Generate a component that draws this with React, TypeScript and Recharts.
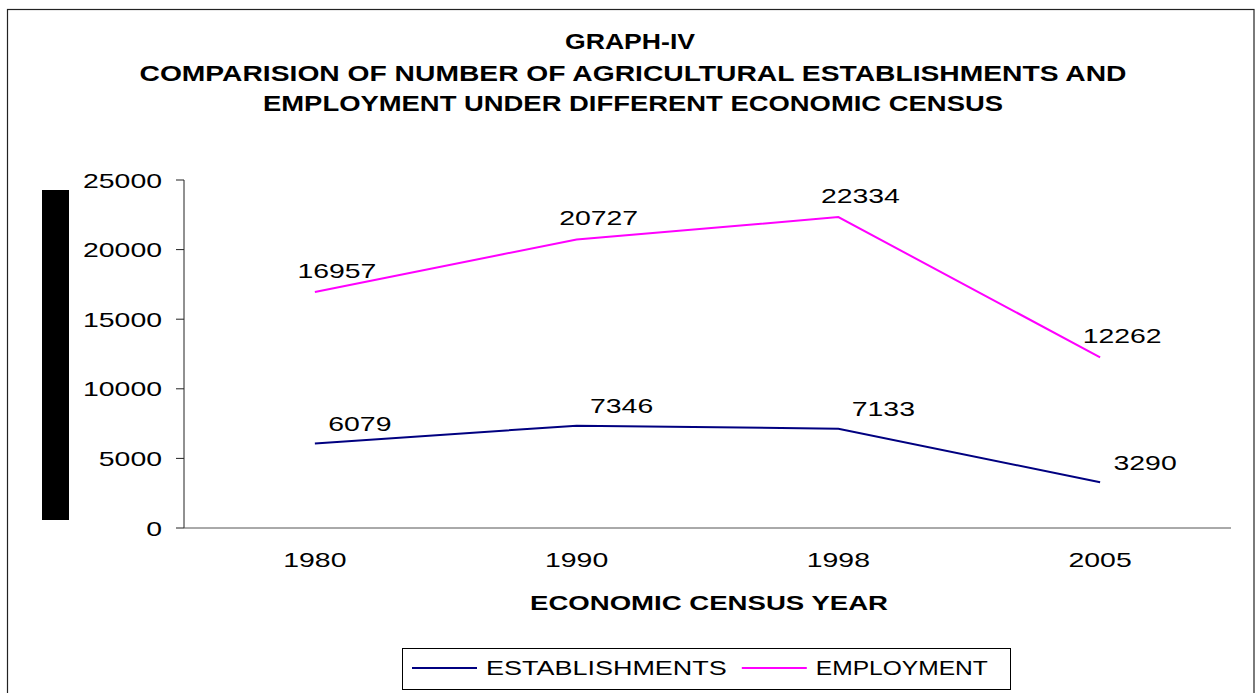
import { LineChart, Line, XAxis, YAxis, Legend, LabelList } from 'recharts';

const years = ['1980', '1990', '1998', '2005'];
const establishments = [6079, 7346, 7133, 3290];
const employment = [16957, 20727, 22334, 12262];
const seriesNames = ['ESTABLISHMENTS', 'EMPLOYMENT'];
const yTicks = [0, 5000, 10000, 15000, 20000, 25000];
const titleLines = [
  'GRAPH-IV',
  'COMPARISION OF NUMBER OF AGRICULTURAL ESTABLISHMENTS AND',
  'EMPLOYMENT UNDER DIFFERENT ECONOMIC CENSUS',
];
const xAxisTitle = 'ECONOMIC CENSUS YEAR';

// each year sits in the middle of its slot, ticks go on the slot edges (excel style)
const data = years.map((year, i) => ({
  year,
  slot: i + 0.5,
  establishments: establishments[i],
  employment: employment[i],
}));
const edgeTicks = [...years.map((_, i) => i), years.length];
const slotTicks = data.map((d) => d.slot);

const FONT = "'Liberation Sans', Arial, Helvetica, sans-serif";

// the source picture is stretched sideways, so text is squeezed/stretched to a width
function Wide({ x, y, text, perChar = 15.8, width, anchor = 'middle', size = 21, weight = 'normal' }: any) {
  return (
    <text
      x={x}
      y={y}
      dy="0.36em"
      textAnchor={anchor}
      fontFamily={FONT}
      fontSize={size}
      fontWeight={weight}
      fill="#000"
      textLength={width ?? text.length * perChar}
      lengthAdjust="spacingAndGlyphs"
    >
      {text}
    </text>
  );
}

const YTick = (p: any) => <Wide x={p.x} y={p.y} text={String(p.payload.value)} anchor="end" />;
const XTick = (p: any) => <Wide x={p.x} y={p.y} text={years[Math.floor(p.payload.value)]} />;

const pointLabel = (dx: number, dy: number) => (p: any) => {
  const vb = p.viewBox || {};
  const x = vb.x ?? p.x;
  const y = vb.y ?? p.y;
  return <Wide x={x + dx} y={y + dy} text={String(p.value)} />;
};

function LegendBox({ payload }: any) {
  const sorted = [...(payload || [])].sort(
    (a: any, b: any) => seriesNames.indexOf(a.value) - seriesNames.indexOf(b.value),
  );
  let cursor = 10;
  const items = sorted.map((item: any) => {
    const w = item.value.length * 17.2;
    const el = (
      <g key={item.value}>
        <line x1={cursor} x2={cursor + 65} y1={20} y2={20} stroke={item.color} strokeWidth={2} />
        <Wide x={cursor + 74} y={19} text={item.value} width={w} anchor="start" />
      </g>
    );
    cursor += 74 + w + 15;
    return el;
  });
  return (
    <svg width={609} height={42} style={{ display: 'block' }}>
      <rect x={0.5} y={0.5} width={608} height={41} fill="#fff" stroke="#000" />
      {items}
    </svg>
  );
}

export default function App() {
  return (
    <div style={{ position: 'absolute', left: 0, top: 0, width: 1257, height: 693, background: '#fff', overflow: 'hidden' }}>
      <LineChart width={1257} height={693} data={data} margin={{ top: 180, right: 26, bottom: 124, left: 84 }}>
        <YAxis
          domain={[0, 25000]}
          ticks={yTicks}
          width={100}
          tickSize={8}
          tickMargin={14}
          stroke="#222"
          tick={YTick}
        />
        <XAxis
          xAxisId="grid"
          type="number"
          dataKey="slot"
          domain={[0, years.length]}
          ticks={edgeTicks}
          tick={false}
          tickSize={6}
          height={1}
          stroke="#555"
        />
        <XAxis
          xAxisId="labels"
          type="number"
          dataKey="slot"
          domain={[0, years.length]}
          ticks={slotTicks}
          axisLine={false}
          tickLine={false}
          tickSize={0}
          tickMargin={30}
          height={40}
          tick={XTick}
        />
        <Legend
          layout="vertical"
          verticalAlign="middle"
          align="center"
          content={LegendBox}
          wrapperStyle={{ left: 402, top: 648, width: 609, height: 42 }}
        />
        <Line
          xAxisId="grid"
          name={seriesNames[0]}
          dataKey="establishments"
          stroke="#000080"
          strokeWidth={2}
          dot={false}
          isAnimationActive={false}
        >
          <LabelList dataKey="establishments" content={pointLabel(45, -20)} />
        </Line>
        <Line
          xAxisId="grid"
          name={seriesNames[1]}
          dataKey="employment"
          stroke="#ff00ff"
          strokeWidth={2}
          dot={false}
          isAnimationActive={false}
        >
          <LabelList dataKey="employment" content={pointLabel(22, -22)} />
        </Line>
      </LineChart>
      <svg width={1257} height={693} style={{ position: 'absolute', left: 0, top: 0, pointerEvents: 'none' }}>
        <rect x={7.5} y={9.5} width={1246.5} height={720} fill="none" stroke="#222" strokeWidth={1.2} />
        <rect x={42} y={190} width={27} height={330} fill="#000" />
        <Wide x={630} y={41} text={titleLines[0]} width={130} size={22} weight="bold" />
        <Wide x={633} y={73} text={titleLines[1]} width={987} size={22} weight="bold" />
        <Wide x={633} y={103} text={titleLines[2]} width={740} size={22} weight="bold" />
        <Wide x={709} y={602} text={xAxisTitle} width={358} size={21} weight="bold" />
      </svg>
    </div>
  );
}
